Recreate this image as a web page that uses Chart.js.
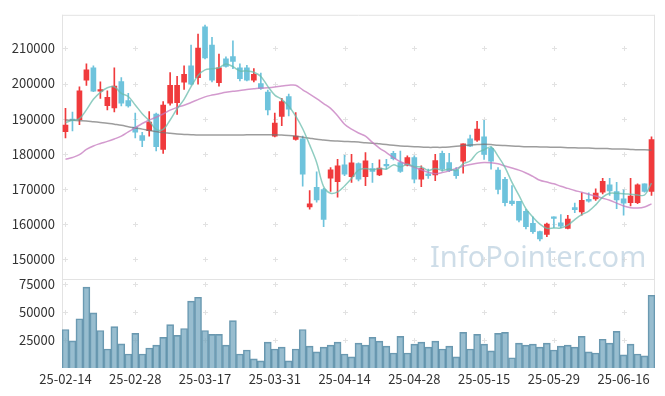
<!DOCTYPE html>
<html>
<head>
<meta charset="utf-8">
<script src="https://cdn.jsdelivr.net/npm/chart.js@4.4.1/dist/chart.umd.min.js"></script>
<style>
  html, body { margin: 0; padding: 0; background: #fff; }
</style>
</head>
<body>
<canvas id="chart" width="665" height="396"></canvas>
<script>
const dates = [
  '25-02-14','25-02-17','25-02-18','25-02-19','25-02-20','25-02-21','25-02-24','25-02-25','25-02-26','25-02-27',
  '25-02-28','25-03-04','25-03-05','25-03-06','25-03-07','25-03-10','25-03-11','25-03-12','25-03-13','25-03-14',
  '25-03-17','25-03-18','25-03-19','25-03-20','25-03-21','25-03-24','25-03-25','25-03-26','25-03-27','25-03-28',
  '25-03-31','25-04-01','25-04-02','25-04-03','25-04-04','25-04-07','25-04-08','25-04-09','25-04-10','25-04-11',
  '25-04-14','25-04-15','25-04-16','25-04-17','25-04-18','25-04-21','25-04-22','25-04-23','25-04-24','25-04-25',
  '25-04-28','25-04-29','25-04-30','25-05-02','25-05-07','25-05-08','25-05-09','25-05-12','25-05-13','25-05-14',
  '25-05-15','25-05-16','25-05-19','25-05-20','25-05-21','25-05-22','25-05-23','25-05-26','25-05-27','25-05-28',
  '25-05-29','25-05-30','25-06-02','25-06-04','25-06-05','25-06-09','25-06-10','25-06-11','25-06-12','25-06-13',
  '25-06-16','25-06-17','25-06-18','25-06-19','25-06-20'
];

const opens = [
  186280,189860,189660,200930,204510,197830,193720,193040,200560,195130,
  187600,185150,186560,191270,181210,194370,194560,200370,205070,201690,
  216140,210990,200280,207040,207700,204510,204510,200930,200000,197550,
  184990,190620,196250,184030,184220,164790,170420,169770,173040,172030,
  176820,173440,177180,173440,175770,173910,176990,180080,177460,176700,
  178870,172760,174270,173910,180080,177460,175410,177830,184220,183860,
  184790,181490,175300,172680,166480,166390,163580,160100,157750,157000,
  161970,160280,158680,164600,163380,166950,167130,169010,171080,169210,
  167130,166000,166000,171370,169210
];
const highs = [
  192900,191830,199070,205630,205070,200480,197940,204510,201690,197180,
  191550,186110,192030,191550,194840,203100,202060,205070,210990,214090,
  216700,213150,208400,207600,212200,205630,205160,204230,203010,198110,
  191550,195770,196990,191750,184990,169490,174840,170140,176060,178390,
  179520,179800,177380,180280,177270,178220,178390,180650,180760,179350,
  179350,176540,175580,179800,180760,180080,176060,182820,185270,189210,
  189490,181970,176060,173240,170900,166390,164140,161970,157940,160190,
  162000,162620,162450,165910,168810,168810,169960,172960,172960,171830,
  169660,172960,171370,171370,184790
];
const lows = [
  184500,186480,188250,199440,197660,195770,192480,191920,193600,193240,
  184510,181970,184990,180760,180080,193800,191180,198310,199630,199800,
  207040,200480,199240,204700,204230,200760,200760,200480,198310,191070,
  184790,187970,190790,183860,170700,164140,166200,159150,169210,167610,
  173720,171830,172200,170900,171830,173720,175580,178220,174650,176540,
  171640,170620,172960,172310,175020,174840,172960,174450,181970,183470,
  178390,175580,168540,165070,165270,160560,158510,157290,155130,156340,
  158880,158870,158510,163180,162450,166200,166670,168540,168080,164310,
  162450,165070,165720,169010,168080
];
const closes = [
  188170,189500,197940,203940,197830,198310,196060,199240,194370,193600,
  186110,183750,189010,181970,193890,199520,199520,202620,199800,210140,
  207320,200930,204510,204850,206280,201410,200930,202620,198590,192480,
  188730,194840,192680,184990,174170,165720,166840,161220,175410,176540,
  174170,177380,172760,177940,174930,175860,176540,178590,174930,178870,
  172760,175770,173720,178030,175580,175130,173720,182820,182170,187040,
  179800,177830,169770,166000,165720,161040,159150,157750,155690,159920,
  161500,159350,161320,164030,166670,166480,168730,172110,169400,166840,
  165910,167890,171080,169210,184030
];
const volumes = [
  34300,24100,43900,72000,49100,33400,16900,36900,21500,12500,
  30800,12500,17800,20400,27300,38700,29100,35200,59600,63000,
  33400,30000,30000,20400,42200,12500,16000,8200,6400,23000,
  16900,18600,6400,16900,34300,19500,14300,18600,20400,23000,
  12500,9900,22100,20400,27300,23900,19500,13400,28200,13400,
  21300,23000,18600,23900,16900,19500,9900,31700,16900,30000,
  21300,15200,30800,31700,9100,22100,20400,21300,18600,22100,
  16000,19500,20400,18600,28200,14300,13400,25600,22100,32600,
  11700,21300,12500,10800,64800
];
const ma5 = [
  188900,189500,190000,192500,195500,197500,198800,199100,197200,196300,
  193900,191400,189400,186900,186900,189600,192800,195500,199100,202300,
  203900,204200,204500,205600,204800,203600,203600,203200,202000,199200,
  196700,195500,193500,190700,187100,182500,177500,170600,168700,169100,
  170800,172900,175300,175800,175400,175800,175600,176800,176200,177000,
  176300,176200,175200,175800,175200,175600,175200,177100,177900,180200,
  181100,181900,179300,176100,171800,168100,164300,161900,159900,158700,
  158800,158800,159600,161200,162600,163600,165400,167600,168700,168700,
  168600,168400,168200,168200,171600
];
const ma20 = [
  178400,178900,179700,181200,182200,182900,183500,184200,185000,186200,
  187400,188600,189600,190400,191300,192400,193200,193800,194600,195400,
  196200,196700,197100,197500,197800,198000,198300,198500,198700,198800,
  199000,199300,199500,199500,198200,197000,195700,194300,192900,190800,
  188400,187000,185900,185000,183200,181600,180300,178900,177700,176900,
  176100,175400,174700,174300,174600,175100,175800,176400,176900,177300,
  177500,177400,177100,176500,175900,175300,174500,173500,172400,171900,
  171400,170700,170100,169500,169000,168400,167900,167300,166700,165900,
  165100,164600,164500,164800,165700
];
const ma120 = [
  189600,189500,189400,189300,189100,188900,188700,188400,188100,187700,
  187300,187000,186600,186300,186000,185800,185600,185500,185400,185300,
  185300,185300,185300,185300,185300,185300,185400,185400,185400,185400,
  185400,185300,185200,185000,184700,184400,184100,183900,183700,183600,
  183500,183400,183300,183100,183000,182800,182600,182400,182200,182100,
  182000,181900,181800,181800,181800,181900,182100,182300,182500,182600,
  182700,182600,182400,182300,182200,182100,182000,182000,181900,181900,
  181800,181800,181700,181700,181600,181600,181500,181500,181400,181300,
  181300,181200,181100,181100,181000
];
const priceTicks = [150000, 160000, 170000, 180000, 190000, 200000, 210000];
const volumeTicks = [25000, 50000, 75000];
const labelEvery = 10;
const watermark = 'InfoPointer.com';

const UP = '#f03a3c';
const DOWN = '#6ec3dc';
const candleColors = closes.map((c, i) => c >= opens[i] ? UP : DOWN);
const tickFont = { family: '"Noto Sans CJK KR", "Noto Sans", sans-serif', size: 13 };

// frame, cross-shaped grid marks and the watermark, all under the data
const backdrop = {
  id: 'backdrop',
  beforeDatasetsDraw(chart) {
    const { ctx, chartArea: ca, scales } = chart;
    const x = scales.x, y = scales.y, yv = scales.yv;
    ctx.save();
    ctx.strokeStyle = '#e3e3e3';
    ctx.lineWidth = 1;
    ctx.beginPath();
    ctx.moveTo(ca.left + 0.5, ca.top); ctx.lineTo(ca.left + 0.5, ca.bottom);
    ctx.moveTo(ca.left, ca.top + 0.5); ctx.lineTo(ca.right, ca.top + 0.5);
    ctx.moveTo(ca.right - 0.5, ca.top); ctx.lineTo(ca.right - 0.5, ca.bottom);
    ctx.moveTo(ca.left, Math.round(y.bottom) + 0.5); ctx.lineTo(ca.right, Math.round(y.bottom) + 0.5);
    ctx.stroke();

    ctx.strokeStyle = '#e2e2e2';
    ctx.beginPath();
    const marks = priceTicks.map(v => y.getPixelForValue(v))
      .concat(volumeTicks.map(v => yv.getPixelForValue(v)));
    for (let i = 0; i < dates.length; i += labelEvery) {
      const px = Math.round(x.getPixelForValue(i)) + 0.5;
      marks.forEach(py => {
        py = Math.round(py) + 0.5;
        ctx.moveTo(px - 2.5, py); ctx.lineTo(px + 2.5, py);
        ctx.moveTo(px, py - 2.5); ctx.lineTo(px, py + 2.5);
      });
    }
    ctx.stroke();

    ctx.fillStyle = 'rgba(190,210,224,0.75)';
    ctx.textBaseline = 'alphabetic';
    ctx.font = '32px "Noto Sans", sans-serif';
    const w = ctx.measureText(watermark).width;
    const size = 32 * 216 / w;
    ctx.font = size.toFixed(1) + 'px "Noto Sans", sans-serif';
    ctx.fillText(watermark, ca.right - 225, y.bottom - 12);
    ctx.restore();
  }
};

new Chart(document.getElementById('chart'), {
  data: {
    labels: dates,
    datasets: [
      { type: 'line', data: ma5, yAxisID: 'y', borderColor: 'rgba(105,188,172,0.75)', borderWidth: 1.5, pointRadius: 0, tension: 0.35, order: 0 },
      { type: 'line', data: ma20, yAxisID: 'y', borderColor: 'rgba(196,120,190,0.75)', borderWidth: 1.5, pointRadius: 0, tension: 0.35, order: 0 },
      { type: 'line', data: ma120, yAxisID: 'y', borderColor: 'rgba(115,115,115,0.7)', borderWidth: 1.5, pointRadius: 0, tension: 0.35, order: 0 },
      { type: 'bar', data: opens.map((o, i) => [o, closes[i]]), yAxisID: 'y', backgroundColor: candleColors,
        barThickness: 5, minBarLength: 1, grouped: false, order: 1 },
      { type: 'bar', data: lows.map((l, i) => [l, highs[i]]), yAxisID: 'y', backgroundColor: candleColors,
        barThickness: 1, grouped: false, order: 2 },
      { type: 'bar', data: volumes, yAxisID: 'yv', backgroundColor: 'rgba(112,164,189,0.72)', borderColor: 'rgba(90,140,165,0.9)',
        borderWidth: 1, barPercentage: 1, categoryPercentage: 1, grouped: false, order: 3 }
    ]
  },
  options: {
    responsive: false,
    animation: false,
    devicePixelRatio: 1,
    layout: { padding: { top: 10, right: 10, left: 0, bottom: 0 } },
    plugins: { legend: { display: false }, tooltip: { enabled: false } },
    scales: {
      x: {
        type: 'category',
        offset: true,
        grid: { display: false, drawTicks: false },
        border: { display: false },
        ticks: {
          autoSkip: false, maxRotation: 0, padding: 3, color: '#333', font: tickFont,
          callback: (v, i) => i % labelEvery === 0 ? dates[i] : ''
        },
        afterFit: s => { s.height = 28; }
      },
      yv: {
        position: 'left', stack: 'panels', stackWeight: 90,
        min: 0, max: 79100,
        grid: { display: false, drawTicks: false },
        border: { display: false },
        ticks: { padding: 7, color: '#333', font: tickFont, callback: v => String(v) },
        afterBuildTicks: s => { s.ticks = volumeTicks.map(v => ({ value: v })); },
        afterFit: s => { s.width = 62; }
      },
      y: {
        position: 'left', stack: 'panels', stackWeight: 268,
        min: 144200, max: 219600,
        grid: { display: false, drawTicks: false },
        border: { display: false },
        ticks: { padding: 7, color: '#333', font: tickFont, callback: v => String(v) },
        afterBuildTicks: s => { s.ticks = priceTicks.map(v => ({ value: v })); },
        afterFit: s => { s.width = 62; }
      }
    }
  },
  plugins: [backdrop]
});
</script>
</body>
</html>
